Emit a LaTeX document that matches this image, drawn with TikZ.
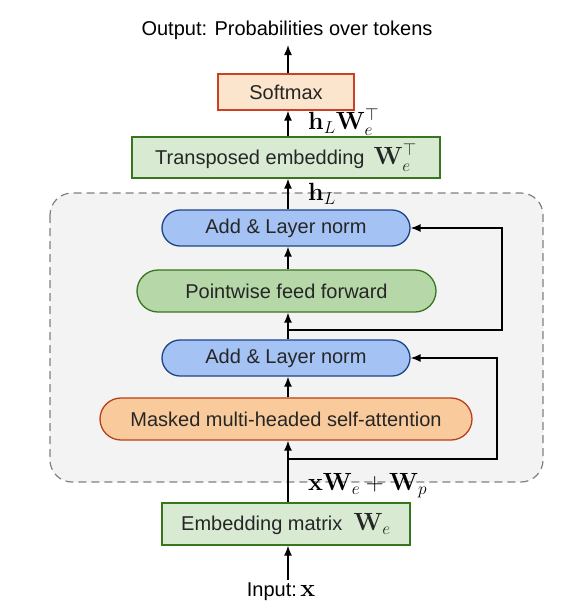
\documentclass[tikz,border=0pt]{standalone}
\usepackage[no-math]{fontspec}
\setmainfont{Liberation Sans}
\usetikzlibrary{arrows.meta}
\definecolor{gfill}{HTML}{D9EAD3}
\definecolor{gdraw}{HTML}{38761D}
\definecolor{ffill}{HTML}{B6D7A8}
\definecolor{sfill}{HTML}{FCE5CD}
\definecolor{sdraw}{HTML}{CC4125}
\definecolor{mfill}{HTML}{F9CB9C}
\definecolor{mdraw}{HTML}{B7401C}
\definecolor{bfill}{HTML}{A4C2F4}
\definecolor{bdraw}{HTML}{1C4587}
\definecolor{bgfill}{HTML}{F3F3F3}
\newcommand{\bigmath}[1]{{\fontsize{23}{26}\selectfont$#1$}}
\tikzset{
  base/.style={line width=1.3pt, inner sep=0pt, font=\fontsize{20}{24}\selectfont, text=black!85},
  sqbox/.style={base, draw=gdraw, fill=gfill},
  pill/.style={base, rounded corners=18pt},
  arr/.style={line width=1.5pt, -{Latex[length=10pt,width=8pt]}},
  lab/.style={font=\fontsize{20}{24}\selectfont, inner sep=0pt},
}
\begin{document}
\begin{tikzpicture}[x=1pt,y=-1pt]
\useasboundingbox (0,0) rectangle (573,616);
\draw[draw=gray, dash pattern=on 8pt off 5pt, line width=1.2pt, fill=bgfill, rounded corners=22pt] (50,193) rectangle (543,482);

\node[lab] (out) at (287,30) {Output: Probabilities over tokens};
\node[base, draw=sdraw, fill=sfill, minimum width=136pt, minimum height=36pt] (soft) at (286,92) {Softmax};
\node[sqbox, minimum width=308pt, minimum height=41pt] (trans) at (286,157.5) {Transposed embedding \,\bigmath{\mathbf{W}_e^{\top}}};
\node[pill, draw=bdraw, fill=bfill, minimum width=248pt, minimum height=36pt] (add1) at (286,228) {Add \& Layer norm};
\node[pill, draw=gdraw, fill=ffill, minimum width=299pt, minimum height=42pt, rounded corners=21pt] (ff) at (286.5,291) {Pointwise feed forward};
\node[pill, draw=bdraw, fill=bfill, minimum width=248pt, minimum height=36pt] (add2) at (286,358) {Add \& Layer norm};
\node[pill, draw=mdraw, fill=mfill, minimum width=372pt, minimum height=42pt, rounded corners=21pt] (mhsa) at (286,419) {Masked multi-headed self-attention};
\node[sqbox, minimum width=248pt, minimum height=42pt] (emb) at (286,524) {Embedding matrix \;\bigmath{\mathbf{W}_e}};
\node[lab] (inp) at (281,592) {Input:\,\bigmath{\mathbf{x}}};

\coordinate (b1) at (288,459);
\coordinate (r1) at (497,358);
\coordinate (b2) at (288,330);
\coordinate (r2) at (502,228);

\draw[arr] (emb.north -| b1) -- (mhsa.south -| b1);
\draw[arr] (mhsa.north -| b1) -- (add2.south -| b1);
\draw[arr] (add2.north -| b2) -- (ff.south -| b2);
\draw[arr] (ff.north -| b2) -- (add1.south -| b2);
\draw[arr] (add1.north -| b2) -- (trans.south -| b2);
\draw[arr] (trans.north -| b2) -- (soft.south -| b2);
\draw[arr] (soft.north -| b2) -- (288,45);
\draw[arr] (inp.north -| b1) ++(0,-3) -- (emb.south -| b1);
\draw[arr] (b1) -| (r1) -- (add2.east);
\draw[arr] (b2) -| (r2) -- (add1.east);

\node[lab, anchor=west] (l1) at (308,122) {\bigmath{\mathbf{h}_L\mathbf{W}_e^{\top}}};
\node[lab, anchor=west] (l2) at (308,194) {\bigmath{\mathbf{h}_L}};
\node[lab, anchor=west] (l3) at (308,486) {\bigmath{\mathbf{x}\mathbf{W}_e+\mathbf{W}_p}};
\end{tikzpicture}
\end{document}
